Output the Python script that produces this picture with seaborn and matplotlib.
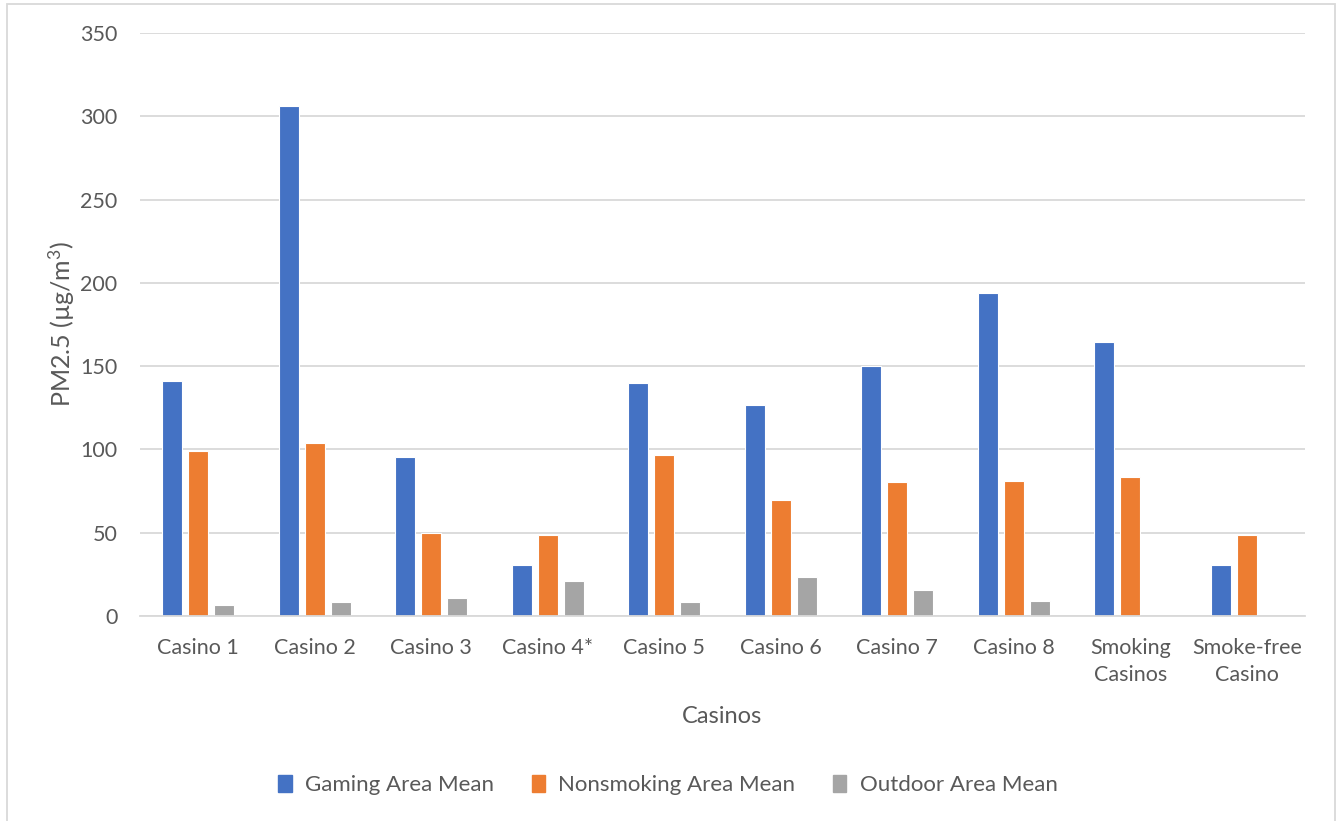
import numpy as np
import pandas as pd
import matplotlib
matplotlib.use('Agg')
import matplotlib.pyplot as plt
import seaborn as sns
from matplotlib.patches import Rectangle

# data
casinos = ['Casino 1', 'Casino 2', 'Casino 3', 'Casino 4*', 'Casino 5', 'Casino 6',
           'Casino 7', 'Casino 8', 'Smoking\nCasinos', 'Smoke-free\nCasino']
gaming_mean = [141.1, 306.2, 95.5, 30.6, 139.9, 126.7, 150.1, 193.9, 164.5, 30.6]
nonsmoking_mean = [99.1, 103.9, 49.8, 48.6, 96.7, 69.6, 80.4, 81.0, 83.4, 48.6]
outdoor_mean = [6.6, 8.4, 10.8, 21.0, 8.4, 23.4, 15.6, 9.0, np.nan, np.nan]
series_names = ['Gaming Area Mean', 'Nonsmoking Area Mean', 'Outdoor Area Mean']
colors = ['#4472C4', '#ED7D31', '#A5A5A5']

df = pd.DataFrame({'Casino': casinos,
                   series_names[0]: gaming_mean,
                   series_names[1]: nonsmoking_mean,
                   series_names[2]: outdoor_mean})
long_df = df.melt(id_vars='Casino', var_name='Series', value_name='PM25')

sns.set_style('white')
plt.rcParams['font.family'] = ['Lato', 'DejaVu Sans']
plt.rcParams['mathtext.fontset'] = 'custom'
plt.rcParams['mathtext.rm'] = 'Lato'
plt.rcParams['mathtext.it'] = 'Lato'
text_color = '#595959'

fig = plt.figure(figsize=(13.44, 8.21), dpi=100)
ax = fig.add_axes([0.104, 0.2497, 0.867, 0.7101])

sns.barplot(data=long_df, x='Casino', y='PM25', hue='Series', hue_order=series_names,
            palette=colors, width=0.67, gap=0.23, saturation=1, ax=ax,
            edgecolor='white', linewidth=0.8, legend=False)

ax.set_ylim(0, 350)
ax.set_yticks(range(0, 351, 50))
ax.yaxis.grid(True, color='#D9D9D9', linewidth=1.3)
ax.set_axisbelow(True)
for s in ['top', 'right', 'left']:
    ax.spines[s].set_visible(False)
ax.spines['bottom'].set_color('#D9D9D9')
ax.spines['bottom'].set_linewidth(1.3)
ax.tick_params(axis='both', length=0, labelsize=15.5, colors=text_color)
ax.tick_params(axis='y', pad=16)
ax.tick_params(axis='x', pad=16)
for lbl in ax.get_xticklabels():
    lbl.set_linespacing(1.45)

ax.set_xlabel('Casinos', fontsize=17, color=text_color, labelpad=15)
ax.set_ylabel('PM2.5 (µg/m$^3$)', fontsize=18, color=text_color, labelpad=2)

handles = [Rectangle((0, 0), 1, 1, color=c) for c in colors]
fig.legend(handles, series_names, loc='center', bbox_to_anchor=(0.497, 0.044), ncol=3,
           frameon=False, fontsize=16, labelcolor=text_color, handlelength=0.6,
           handleheight=0.8, handletextpad=0.6, columnspacing=1.7)

# light frame round the chart area
fig.patches.append(Rectangle((0.005, -0.01), 0.988, 1.005, transform=fig.transFigure,
                             fill=False, edgecolor='#D9D9D9', linewidth=1.3))

fig.savefig('out.png', dpi=100, facecolor='white')
